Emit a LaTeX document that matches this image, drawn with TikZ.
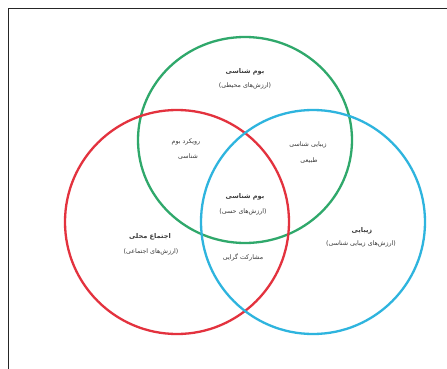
\documentclass[tikz,border=0pt]{standalone}
\usepackage{fontspec}
\TeXXeTstate=1
\newfontfamily\fafont[Script=Arabic]{DejaVu Sans}
\definecolor{cgreen}{HTML}{2FA86B}
\definecolor{cred}{HTML}{E3323E}
\definecolor{cblue}{HTML}{2EB4DE}
\definecolor{ctext}{HTML}{3A3A3A}
\tikzset{
  ring/.style={line width=2.3pt},
  lbl/.style={font=\fafont\fontsize{6.3}{8}\selectfont, text=ctext, inner sep=0pt},
  ttl/.style={font=\fafont\bfseries\fontsize{6.6}{8}\selectfont, text=ctext, inner sep=0pt}
}
\begin{document}
\begin{tikzpicture}[x=1pt,y=-1pt]
\useasboundingbox (0,0) rectangle (447,369);
\fill[white] (0,0) rectangle (447,369);
\draw[line width=1pt, black!85] (8,369) -- (8,9) -- (447,9);
% circles
\draw[ring, cgreen] (245,140) ellipse [x radius=107, y radius=103];
\draw[ring, cred] (177,222) circle [radius=112];
\draw[ring, cblue] (313,222) circle [radius=112];
% texts
\node[ttl] (t1) at (245,72) {\beginR بوم شناسی\endR};
\node[lbl] (t2) at (245,86) {\beginR (ارزش‌های محیطی)\endR};
\node[lbl] (gr1) at (186,142) {\beginR رویکرد بوم\endR};
\node[lbl] (gr2) at (188,157) {\beginR شناسی\endR};
\node[lbl] (gb1) at (308,145) {\beginR زیبایی شناسی\endR};
\node[lbl] (gb2) at (309,161) {\beginR طبیعی\endR};
\node[ttl] (c1) at (245,197) {\beginR بوم شناسی\endR};
\node[lbl] (c2) at (243,212) {\beginR (ارزش‌های حسی)\endR};
\node[ttl] (l1) at (150,237) {\beginR اجتماع محلی\endR};
\node[lbl] (l2) at (151,252) {\beginR (ارزش‌های اجتماعی)\endR};
\node[ttl] (r1) at (362,231) {\beginR زیبایی\endR};
\node[lbl] (r2) at (361,244) {\beginR (ارزش‌های زیبایی شناسی)\endR};
\node[lbl] (rb) at (243,257) {\beginR مشارکت گرایی\endR};
\end{tikzpicture}
\end{document}
